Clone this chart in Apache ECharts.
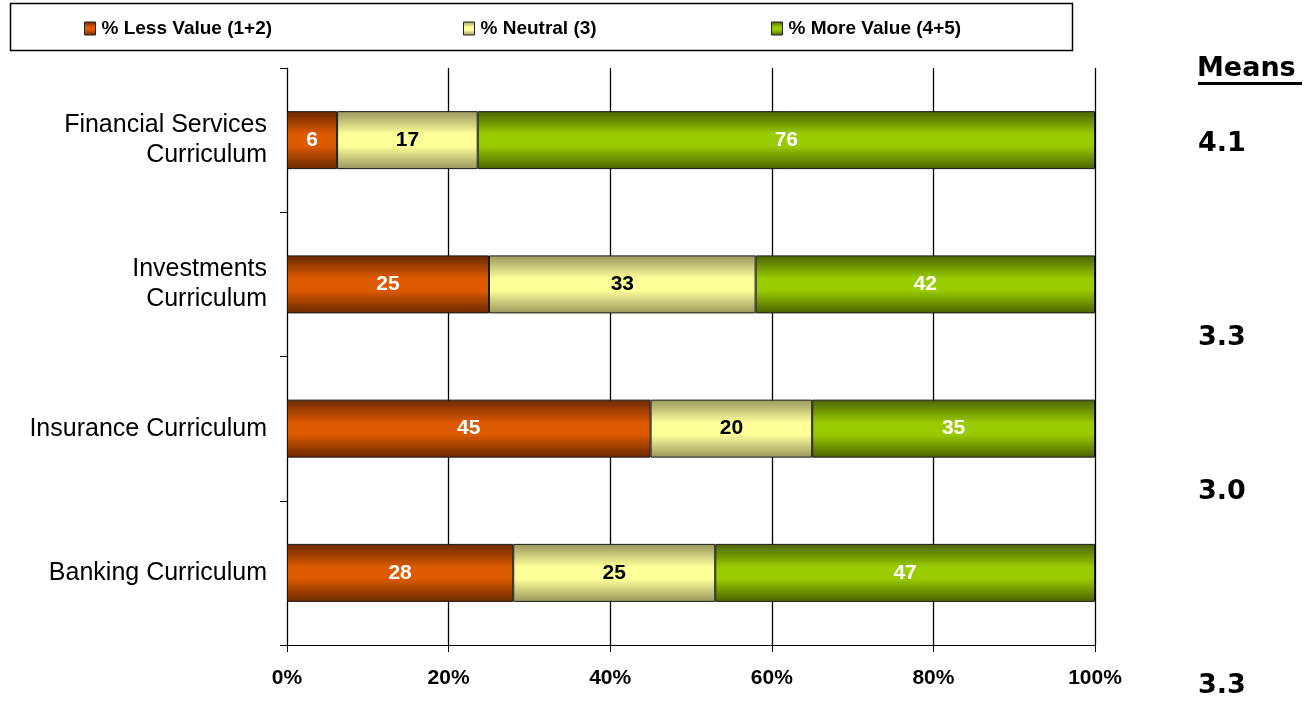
<!DOCTYPE html>
<html><head><meta charset="utf-8">
<script src="https://cdn.jsdelivr.net/npm/echarts@6/dist/echarts.min.js"></script>
<style>html,body{margin:0;padding:0;background:#fff}#c{width:1315px;height:702px}</style>
</head><body><div id="c"></div>
<script>
var categories = ['Financial Services\nCurriculum', 'Investments\nCurriculum', 'Insurance Curriculum', 'Banking Curriculum'];
var seriesNames = ['% Less Value (1+2)', '% Neutral (3)', '% More Value (4+5)'];
// unrounded estimates; labels show rounded values
var lessValue = [6.2, 25, 45, 28];
var neutral = [17.4, 33, 20, 25];
var moreValue = [76.4, 42, 35, 47];
var xTicks = [0, 20, 40, 60, 80, 100];
var meansTitle = 'Means';
var means = ['4.1', '3.3', '3.0', '3.3'];

function grad(dark, bright) {
  return new echarts.graphic.LinearGradient(0, 0, 0, 1, [
    {offset: 0, color: dark}, {offset: 0.4, color: bright},
    {offset: 0.6, color: bright}, {offset: 1, color: dark}]);
}
var colors = [grad('#6a2800', '#dd5a00'), grad('#98975e', '#ffff99'), grad('#4a6200', '#99cc00')];
var labelColors = ['#fff', '#000', '#fff'];
var datas = [lessValue, neutral, moreValue];

var chart = echarts.init(document.getElementById('c'));
var series = datas.map(function (d, i) {
  return {
    name: seriesNames[i], type: 'bar', stack: 'all', data: d, barWidth: 58,
    itemStyle: {color: colors[i], borderColor: '#1a1a1a', borderWidth: 1},
    label: {show: true, position: 'inside', color: labelColors[i], fontFamily: 'Liberation Sans', fontWeight: 'bold', fontSize: 21,
      formatter: function (p) { return Math.round(p.value); }},
    emphasis: {disabled: true}
  };
});
var legendX = [84, 463, 771];
var legends = seriesNames.map(function (n, i) {
  return {data: [n], left: legendX[i], top: 19, padding: 0, icon: 'rect', itemWidth: 11, itemHeight: 13, itemGap: 5,
    textStyle: {fontFamily: 'Liberation Sans', fontWeight: 'bold', fontSize: 19, color: '#000', padding: [0, 0, 0, 1]},
    itemStyle: {borderColor: '#222', borderWidth: 1}};
});
var meansY = [144, 338, 492, 686];
var meanFont = 'bold 27px "DejaVu Sans"';
var graphics = [
  {type: 'rect', shape: {x: 10.5, y: 3.5, width: 1062, height: 47}, style: {fill: 'none', stroke: '#000', lineWidth: 1.5}, z: 0},
  {type: 'text', x: 1197, y: 69, style: {text: meansTitle, font: meanFont, fill: '#000', textAlign: 'left', textVerticalAlign: 'middle'}},
  {type: 'rect', shape: {x: 1198, y: 82, width: 104, height: 3}, style: {fill: '#000'}}
];
means.forEach(function (m, i) {
  graphics.push({type: 'text', x: 1198, y: meansY[i], style: {text: m, font: meanFont, fill: '#000', textAlign: 'left', textVerticalAlign: 'middle'}});
});

chart.setOption({
  animation: false,
  legend: legends,
  graphic: graphics,
  grid: {left: 287, right: 220, top: 68, bottom: 57, containLabel: false},
  xAxis: {
    type: 'value', min: xTicks[0], max: xTicks[xTicks.length - 1], interval: 20,
    axisLine: {show: true, lineStyle: {color: '#000', width: 1}},
    axisTick: {show: true, length: 7, lineStyle: {color: '#000'}},
    splitLine: {show: true, lineStyle: {color: '#000', width: 1.3}},
    axisLabel: {formatter: '{value}%', color: '#000', fontFamily: 'Liberation Sans', fontWeight: 'bold', fontSize: 21, margin: 23}
  },
  yAxis: {
    type: 'category', data: categories, inverse: true,
    axisLine: {show: true, lineStyle: {color: '#000', width: 1}},
    axisTick: {show: true, length: 7, lineStyle: {color: '#000'}},
    axisLabel: {color: '#000', fontFamily: 'Liberation Sans', fontSize: 25, margin: 20, align: 'right', lineHeight: 30}
  },
  series: series
});
</script></body></html>
